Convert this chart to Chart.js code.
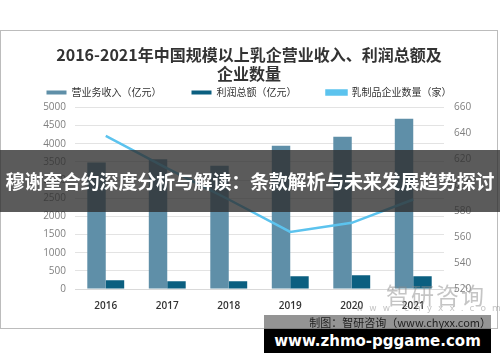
<!DOCTYPE html>
<html lang="zh">
<head>
    <meta charset="UTF-8">
    <title>乳企营业收入</title>
    <script src="https://cdn.jsdelivr.net/npm/chart.js"></script>
    <style>
        body { margin: 0; background: #fff; font-family: "Noto Sans CJK SC", sans-serif; }
        #page { position: relative; width: 500px; height: 362px; overflow: hidden; }
        #frame { position: absolute; left: 0; top: 30px; width: 496px; height: 297px; border: 1px solid #bcbcbc; }
        #banner { position: absolute; left: 0; top: 150px; width: 500px; height: 62px; background: rgba(45,45,45,0.78);
                  color: #fff; font-weight: bold; font-size: 19px; line-height: 62px; text-align: center; white-space: nowrap; letter-spacing: -0.2px; }
        #logo { position: absolute; left: 386px; top: 277px; font-size: 23px; color: rgba(140,140,140,0.5); letter-spacing: 2px; }
        #logourl { position: absolute; left: 356px; top: 303px; font-size: 9px; color: rgba(140,140,140,0.5); letter-spacing: 6px; font-family: "DejaVu Sans"; }
        #credit { position: absolute; left: 264px; top: 315px; width: 227px; height: 14px; background: rgba(90,90,90,0.65);
                  font-size: 11px; line-height: 14px; text-align: right; color: #222; white-space: nowrap; }
        #site { position: absolute; left: 264px; top: 329px; width: 227px; height: 24px; background: #000; color: #fff;
                font-family: "DejaVu Sans"; font-weight: bold; font-size: 15px; line-height: 24px; text-align: center; }
    </style>
</head>
<body>
<div id="page">
    <div id="frame"><canvas id="chart"></canvas></div>
    <div id="logo">智研咨询</div>
    <div id="logourl">www.chyxx.com</div>
    <div id="banner">穆谢奎合约深度分析与解读：条款解析与未来发展趋势探讨</div>
    <div id="credit">制图：智研咨询（www.chyxx.com）</div>
    <div id="site">www.zhmo-pggame.com</div>
</div>

<script>
    const years = ['2016', '2017', '2018', '2019', '2020', '2021'];
    const revenue = [3480, 3575, 3395, 3945, 4195, 4690];
    const profit = [240, 212, 212, 350, 378, 350];
    const companies = [638, 613, 589, 564, 571, 589];

    const ctx = document.getElementById('chart').getContext('2d');
    new Chart(ctx, {
        type: 'bar',
        data: {
            labels: years,
            datasets: [
                { label: '营业务收入（亿元）', data: revenue, backgroundColor: '#5f8fa8', yAxisID: 'y', order: 2,
                  categoryPercentage: 0.6, barPercentage: 1 },
                { label: '利润总额（亿元）', data: profit, backgroundColor: '#0b5f80', yAxisID: 'y', order: 2,
                  categoryPercentage: 0.6, barPercentage: 1 },
                { type: 'line', label: '乳制品企业数量（家）', data: companies, borderColor: '#5cc3ee', backgroundColor: '#5cc3ee',
                  borderWidth: 2.5, pointRadius: 0, tension: 0, yAxisID: 'y1', order: 1 }
            ]
        },
        options: {
            responsive: true,
            maintainAspectRatio: false,
            animation: false,
            layout: { padding: { left: 8, right: 8, bottom: 13 } },
            plugins: {
                title: {
                    display: true,
                    text: ['2016-2021年中国规模以上乳企营业收入、利润总额及', '企业数量'],
                    color: '#333',
                    font: { family: 'Noto Sans CJK SC', size: 16, weight: 'bold' },
                    padding: { top: 14, bottom: -26 }
                },
                legend: {
                    labels: {
                        boxWidth: 20, boxHeight: 4, padding: 30, color: '#333',
                        font: { family: 'Noto Sans CJK SC', size: 10 },
                        sort: (a, b) => a.datasetIndex - b.datasetIndex
                    }
                },
                tooltip: { enabled: false }
            },
            scales: {
                x: {
                    grid: { display: false },
                    border: { color: '#d9d9d9' },
                    ticks: { color: '#333', font: { family: 'Open Sans', size: 10, weight: '600' } }
                },
                y: {
                    min: 0, max: 5000,
                    afterFit: s => { s.width = 66; },
                    ticks: { stepSize: 500, color: '#7f7f7f', font: { family: 'Open Sans', size: 10 }, padding: 9,
                             callback: v => v },
                    grid: { color: '#e3e3e3', drawTicks: false },
                    border: { display: false }
                },
                y1: {
                    position: 'right',
                    min: 520, max: 660,
                    afterFit: s => { s.width = 45; },
                    ticks: { stepSize: 20, color: '#7f7f7f', font: { family: 'Open Sans', size: 10 }, padding: 10,
                             callback: v => v },
                    grid: { display: false, drawTicks: false },
                    border: { display: false }
                }
            }
        }
    });
</script>
</body>
</html>
